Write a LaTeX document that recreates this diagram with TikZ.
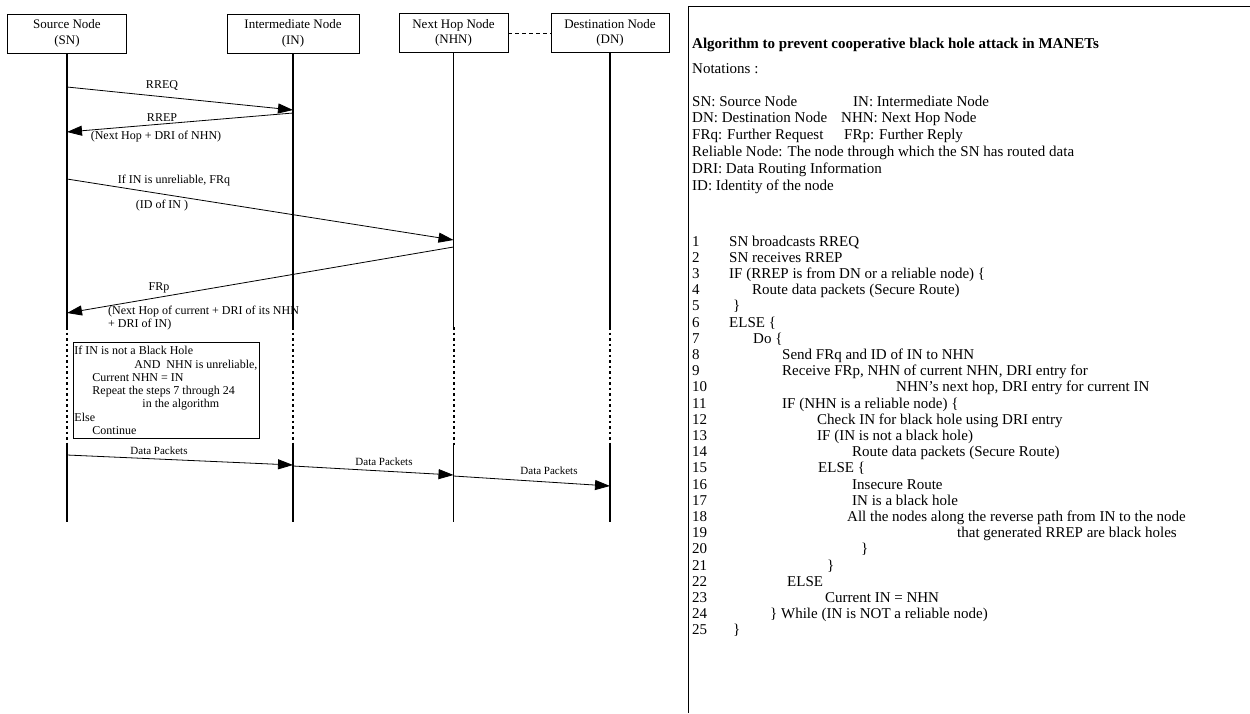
\documentclass[tikz,border=0pt]{standalone}
\usepackage{fontspec}
\setmainfont{Liberation Serif}
\usetikzlibrary{arrows.meta}
\begin{document}
\begin{tikzpicture}[x=1pt,y=-1pt,
 lbox/.style={draw, line width=0.9pt, minimum height=39pt, inner sep=0pt, align=center, font=\fontsize{13}{15.5}\selectfont},
 life/.style={line width=1.9pt},
 lifedot/.style={line width=2pt, dash pattern=on 2.5pt off 3pt},
 msg/.style={line width=0.8pt, -{Triangle[length=15pt,width=10pt]}},
 mlab/.style={font=\fontsize{12}{13}\selectfont, inner sep=0pt},
 mlabw/.style={font=\fontsize{12}{13}\selectfont, inner sep=0pt, anchor=west},
 dlab/.style={font=\fontsize{11}{12}\selectfont, inner sep=0pt},
 rt/.style={anchor=base west, inner sep=0pt, font=\fontsize{15}{17}\selectfont},
 panel/.style={line width=1pt},
]
\useasboundingbox (0,0) rectangle (1250,713);

% ---------- lifeline heads ----------
\node[lbox, minimum width=119pt] (SN) at (67,33.5) {Source Node\\(SN)};
\node[lbox, minimum width=132pt] (IN) at (293,33.5) {Intermediate Node\\(IN)};
\node[lbox, minimum width=109pt] (NHN) at (453.5,33) {Next Hop Node\\(NHN)};
\node[lbox, minimum width=118pt] (DN) at (610,33) {Destination Node\\(DN)};
\draw[line width=0.8pt, dash pattern=on 4pt off 3pt] (NHN) -- (DN);

% ---------- lifelines ----------
\foreach \n in {SN,IN,NHN,DN}{
  \coordinate (\n a) at (\n.south |- 0,327);
  \coordinate (\n b) at (\n.south |- 0,445);
  \coordinate (\n c) at (\n.south |- 0,522);
  \draw[life] (\n.south) -- (\n a);
  \draw[lifedot] (\n a) -- (\n b);
  \draw[life] (\n b) -- (\n c);
}

% ---------- message points ----------
\coordinate (m1s) at (SN.south |- 0,87);
\coordinate (m1e) at (IN.south |- 0,110);
\coordinate (m2s) at (IN.south |- 0,113);
\coordinate (m2e) at (SN.south |- 0,132);
\coordinate (m3s) at (SN.south |- 0,179);
\coordinate (m3e) at (NHN.south |- 0,240);
\coordinate (m4s) at (NHN.south |- 0,247);
\coordinate (m4e) at (SN.south |- 0,313);
\coordinate (d1s) at (SN.south |- 0,455);
\coordinate (d1e) at (IN.south |- 0,465);
\coordinate (d2s) at (IN.south |- 0,466);
\coordinate (d2e) at (NHN.south |- 0,475);
\coordinate (d3s) at (NHN.south |- 0,476);
\coordinate (d3e) at (DN.south |- 0,486);

\draw[msg] (m1s) -- (m1e);
\draw[msg] (m2s) -- (m2e);
\draw[msg] (m3s) -- (m3e);
\draw[msg] (m4s) -- (m4e);
\draw[msg] (d1s) -- (d1e);
\draw[msg] (d2s) -- (d2e);
\draw[msg] (d3s) -- (d3e);

\node[mlab] (l1) at (162,85) {RREQ};
\node[mlab] (l2) at (162,118) {RREP};
\node[mlab] (l2b) at (156,137) {(Next Hop + DRI of NHN)};
\node[mlab] (l3) at (174,181) {If IN is unreliable, FRq};
\node[mlab] (l3b) at (162,206) {(ID of IN )};
\node[mlab] (l4) at (159,288) {FRp};
\node[mlabw] (l4b) at (108,312) {(Next Hop of current + DRI of its NHN};
\node[mlabw] (l4c) at (108,325) {+ DRI of IN)};

\node[dlab] (dl1) at (159,451) {Data Packets};
\node[dlab] (dl2) at (384,462) {Data Packets};
\node[dlab] (dl3) at (549,471) {Data Packets};

% ---------- condition box ----------
\node[draw, fill=white, line width=0.9pt, anchor=north west, minimum width=186pt, minimum height=96pt,
      inner sep=1pt, align=left, font=\fontsize{12}{13.3}\selectfont] (cond) at (73,342)
 {\makebox[184pt][l]{If IN is not a Black Hole}\\
  \hspace*{60pt}AND\ \ NHN is unreliable,\\
  \hspace*{18pt}Current NHN = IN\\
  \hspace*{18pt}Repeat the steps 7 through 24\\
  \hspace*{68pt}in the algorithm\\
  Else\\
  \hspace*{18pt}Continue};

% ---------- right panel ----------
\coordinate (pb) at (688,713);
\coordinate (pc) at (688,6.5);
\coordinate (pr) at (1250,6.5);
\draw[panel] (pb) -- (pc) -- (pr);

\node[rt, font=\fontsize{15}{17}\selectfont\bfseries] (title) at (692,48) {Algorithm to prevent cooperative black hole attack in MANETs};
\node[rt] (nt) at (692,73) {Notations :};
\node[rt] (n1) at (692,106) {SN: Source Node};
\node[rt] (n1b) at (853,106) {IN: Intermediate Node};
\node[rt] (n2) at (692,122.8) {DN: Destination Node};
\node[rt] (n2b) at (841,122.8) {NHN: Next Hop Node};
\node[rt] (n3) at (692,139.6) {FRq: Further Request};
\node[rt] (n3b) at (844,139.6) {FRp: Further Reply};
\node[rt] (n4) at (692,156.4) {Reliable Node: The node through which the SN has routed data};
\node[rt] (n5) at (692,173.2) {DRI: Data Routing Information};
\node[rt] (n6) at (692,190) {ID: Identity of the node};

\foreach \i in {1,...,25}{
  \node[rt] (num\i) at (692,{246+(\i-1)*16.2}) {\i};
}
\def\ly#1{{246+(#1-1)*16.2}}
\node[rt] (t1) at (729,\ly{1}) {SN broadcasts RREQ};
\node[rt] (t2) at (729,\ly{2}) {SN receives RREP};
\node[rt] (t3) at (729,\ly{3}) {IF (RREP is from DN or a reliable node) \{};
\node[rt] (t4) at (752,\ly{4}) {Route data packets (Secure Route)};
\node[rt] (t5) at (733,\ly{5}) {\}};
\node[rt] (t6) at (729,\ly{6}) {ELSE \{};
\node[rt] (t7) at (753,\ly{7}) {Do \{};
\node[rt] (t8) at (782,\ly{8}) {Send FRq and ID of IN to NHN};
\node[rt] (t9) at (782,\ly{9}) {Receive FRp, NHN of current NHN, DRI entry for};
\node[rt] (t10) at (896,\ly{10}) {NHN's next hop, DRI entry for current IN};
\node[rt] (t11) at (782,\ly{11}) {IF (NHN is a reliable node) \{};
\node[rt] (t12) at (817,\ly{12}) {Check IN for black hole using DRI entry};
\node[rt] (t13) at (817,\ly{13}) {IF (IN is not a black hole)};
\node[rt] (t14) at (852,\ly{14}) {Route data packets (Secure Route)};
\node[rt] (t15) at (818,\ly{15}) {ELSE \{};
\node[rt] (t16) at (852,\ly{16}) {Insecure Route};
\node[rt] (t17) at (852,\ly{17}) {IN is a black hole};
\node[rt] (t18) at (847,\ly{18}) {All the nodes along the reverse path from IN to the node};
\node[rt] (t19) at (957,\ly{19}) {that generated RREP are black holes};
\node[rt] (t20) at (861,\ly{20}) {\}};
\node[rt] (t21) at (827,\ly{21}) {\}};
\node[rt] (t22) at (787,\ly{22}) {ELSE};
\node[rt] (t23) at (825,\ly{23}) {Current IN = NHN};
\node[rt] (t24) at (770,\ly{24}) {\} While (IN is NOT a reliable node)};
\node[rt] (t25) at (733,\ly{25}) {\}};
\end{tikzpicture}
\end{document}
